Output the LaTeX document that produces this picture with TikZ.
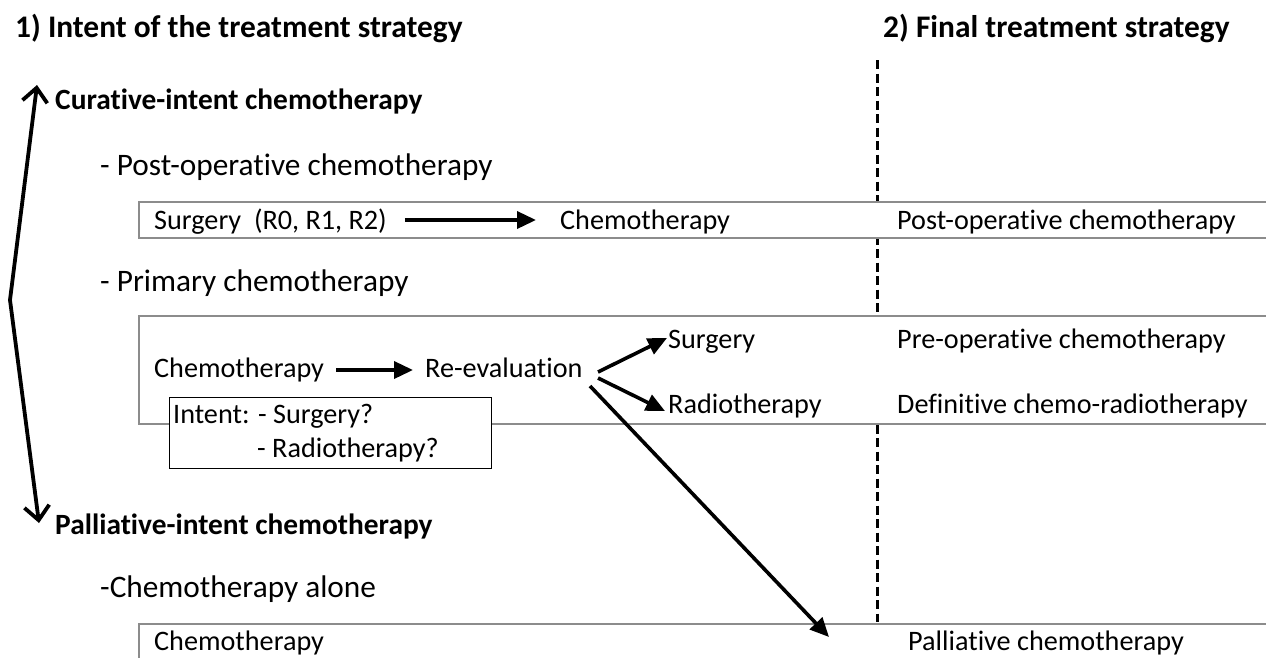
\documentclass[tikz,border=0pt]{standalone}
\usepackage{fontspec}
\setmainfont{Carlito}[Ligatures=NoCommon]
\usetikzlibrary{arrows.meta,calc}
\begin{document}
\begin{tikzpicture}[x=1pt,y=-1pt,
  txt/.style={anchor=base west,inner sep=0pt,font=\fontsize{28.2}{32}\selectfont},
  sub/.style={anchor=base west,inner sep=0pt,font=\fontsize{31.3}{36}\selectfont},
  head/.style={anchor=base west,inner sep=0pt,font=\fontsize{29.4}{34}\selectfont\bfseries},
  ttl/.style={anchor=base west,inner sep=0pt,font=\fontsize{31.4}{36}\selectfont\bfseries},
  band/.style={draw=black!45,line width=1.5pt,fill=white},
  arr/.style={line width=3.6pt,-{Triangle[length=19pt,width=17pt]}},
  barb/.style={line width=3.8pt},
  sep/.style={line width=3pt,dash pattern=on 9pt off 4.5pt}
]
\clip (0,0) rectangle (1266,657);
\fill[white] (0,0) rectangle (1266,657);
% titles
\node[ttl] (t1) at (15,37) {1) Intent of the treatment strategy};
\node[ttl] (t2) at (883,37) {2) Final treatment strategy};
% dashed separator
\coordinate (dtop) at (877,60);
\coordinate (dbot) at (877,622);
\draw[sep] (dtop) -- (dbot);
% headings
\node[head] (cur) at (55,109) {Curative-intent chemotherapy};
\node[sub] (post) at (100,175) {- Post-operative chemotherapy};
\node[sub] (prim) at (100,291) {- Primary chemotherapy};
\node[head] (pal) at (55,534) {Palliative-intent chemotherapy};
\node[sub] (alone) at (100,597) {-Chemotherapy alone};
% bands
\draw[band] (139,202) rectangle (1280,238);
\draw[band] (139,316) rectangle (1280,424);
\draw[band] (139,624) rectangle (1280,690);
% band 1
\node[txt] (surg1) at (154,229) {Surgery\ \ (R0, R1, R2)};
\node[txt] (chemo1) at (560,229) {Chemotherapy};
\node[txt] (postf) at (897,229) {Post-operative chemotherapy};
\draw[arr,shorten <=18pt,shorten >=24pt] (surg1.east|-0,220) -- (chemo1.west|-0,220);
% band 2
\node[txt] (chemo2) at (154,377) {Chemotherapy};
\node[txt] (reev) at (425,377) {Re-evaluation};
\node[txt] (surg2) at (668,348) {Surgery};
\node[txt] (radio) at (668,413) {Radiotherapy};
\node[txt] (pre) at (897,348) {Pre-operative chemotherapy};
\node[txt] (defi) at (897,413) {Definitive chemo-radiotherapy};
\draw[arr,shorten <=12pt,shorten >=12pt] (chemo2.east|-0,370) -- (reev.west|-0,370);
\coordinate (rs) at (598,372);
\coordinate (rr) at (598,378);
\coordinate (rp) at (590,386);
\coordinate (st) at (667,338);
\coordinate (rt) at (665,411);
\coordinate (pend) at (829,637);
\draw[arr] (rs) -- (st);
\draw[arr] (rr) -- (rt);
% intent box
\node[draw=black,line width=1.4pt,fill=white,minimum width=322pt,minimum height=71pt,anchor=north west,inner sep=0pt] (intent) at (169,397) {};
\node[txt] (int1) at (173,423) {Intent: - Surgery?};
\node[txt] (int2) at (257,457) {- Radiotherapy?};
% band 3
\node[txt] (chemo3) at (154,650) {Chemotherapy};
\node[txt] (palf) at (908,650) {Palliative chemotherapy};
\draw[arr] (rp) -- (pend);
% left double arrow
\coordinate (ctop) at (37,85);
\coordinate (cmid) at (10,300);
\coordinate (cbot) at (39,523);
\draw[barb,{Straight Barb[length=14pt,width=25pt,line width=3.8pt]}-{Straight Barb[length=14pt,width=25pt,line width=3.8pt]}] (ctop) -- (cmid) -- (cbot);
\end{tikzpicture}
\end{document}
